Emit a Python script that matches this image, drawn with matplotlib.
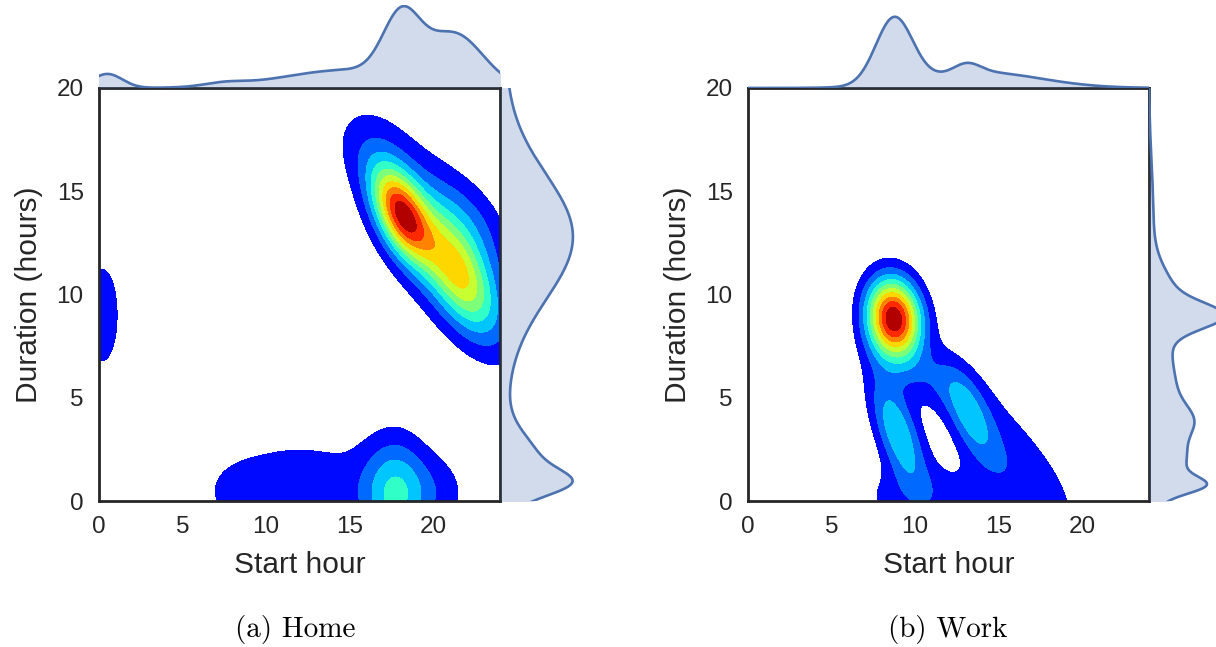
import numpy as np
import matplotlib.pyplot as plt

plt.rcParams['font.family'] = ['Liberation Sans', 'DejaVu Sans']

# Home: kernel blobs in (start hour, duration) space
home_mx = [18.1, 21.5, 20.1, 22.3, 16.2, 0.2, 17.7, 20.2, 12.0, 8.6]
home_my = [13.9, 11.0, 12.8, 13.6, 17.0, 9.0, 0.3, 0.4, 0.6, 0.4]
home_smaj = [1.7, 2.3, 4.5, 2.0, 1.6, 2.75, 1.9, 1.5, 4.3, 1.1]
home_smin = [0.9, 1.1, 1.9, 1.2, 1.2, 1.1, 1.3, 1.4, 1.9, 0.8]
home_ang = [-58, -55, -50, -40, -40, 90, 90, 0, 0, 0]
home_w = [0.72, 0.47, 0.2, 0.1, 0.06, 0.12, 0.3, 0.1, 0.14, 0.05]

# Work: kernel blobs
work_mx = [8.72, 8.95, 13.25, 10.6, 10.5, 15.8]
work_my = [8.84, 3.35, 4.2, 6.0, 0.2, 2.0]
work_smaj = [1.35, 2.0, 1.7, 1.8, 3.3, 4.5]
work_smin = [1.1, 0.82, 0.72, 0.9, 1.2, 1.5]
work_ang = [-75, -64, -60, -20, 0, -45]
work_w = [1.0, 0.36, 0.235, 0.11, 0.13, 0.15]

# marginal kde peaks (position, width, height as fraction of margin axes)
home_start_mu = [0.5, 7.5, 15.0, 18.1, 21.3]
home_start_sd = [0.9, 1.2, 4.0, 1.1, 1.7]
home_start_h = [0.17, 0.04, 0.22, 0.72, 0.6]

home_dur_mu = [0.85, 1.8, 12.8, 10.0]
home_dur_sd = [0.6, 1.3, 3.0, 20.0]
home_dur_h = [0.5, 0.42, 0.83, 0.08]

work_start_mu = [8.75, 13.1, 14.0]
work_start_sd = [1.1, 0.8, 3.5]
work_start_h = [0.8, 0.12, 0.19]

work_dur_mu = [0.75, 1.8, 3.9, 4.5, 8.95, 9.8, 14.0]
work_dur_sd = [0.4, 1.0, 0.7, 3.2, 0.6, 1.3, 2.5]
work_dur_h = [0.42, 0.2, 0.19, 0.36, 0.6, 0.25, 0.05]

ticks = [0, 5, 10, 15, 20]
line_col = '#4C72B0'
ink = '0.15'


def density(mx, my, smaj, smin, ang, w, xx, yy):
    z = np.zeros_like(xx)
    for x0, y0, a, b, t, h in zip(mx, my, smaj, smin, ang, w):
        t = np.deg2rad(t)
        u = (xx - x0) * np.cos(t) + (yy - y0) * np.sin(t)
        v = -(xx - x0) * np.sin(t) + (yy - y0) * np.cos(t)
        z += h * np.exp(-0.5 * ((u / a) ** 2 + (v / b) ** 2))
    return z


def curve(mu, sd, h, t):
    out = np.zeros_like(t)
    for m, s, a in zip(mu, sd, h):
        out += a * np.exp(-0.5 * ((t - m) / s) ** 2)
    return out


def panel(fig, left, blobs, start_k, dur_k, caption, cap_x):
    W, H = 401 / 1216, 413 / 647
    bottom = 146 / 647
    mw, mh = 80.2 / 1216, 82.6 / 647
    ax = fig.add_axes([left, bottom, W, H])
    ax_top = fig.add_axes([left, bottom + H, W, mh])
    ax_right = fig.add_axes([left + W, bottom, mw, H])

    xs = np.linspace(0, 24, 241)
    ys = np.linspace(0, 20, 201)
    xx, yy = np.meshgrid(xs, ys)
    z = density(*blobs, xx, yy)
    levels = np.linspace(0, z.max() * 1.01, 12)
    # lowest band left empty
    ax.contourf(xx, yy, z, levels=levels[1:], cmap='jet', vmin=0, vmax=levels[-1])
    ax.set_xlim(0, 24)
    ax.set_ylim(0, 20)
    ax.set_xticks(ticks)
    ax.set_yticks(ticks)
    ax.tick_params(length=0, labelsize=17.5, labelcolor=ink, pad=11)
    for sp in ax.spines.values():
        sp.set_color(ink)
        sp.set_linewidth(2)
    ax.set_xlabel('Start hour', fontsize=21.5, color=ink, labelpad=9)
    ax.set_ylabel('Duration (hours)', fontsize=21.5, color=ink, labelpad=10)

    t = np.linspace(-3, 27, 600)
    f = curve(*start_k, t)
    ax_top.fill_between(t, 0, f, color=line_col, alpha=0.25, lw=0)
    ax_top.plot(t, f, color=line_col, lw=1.9)
    ax_top.set_xlim(0, 24)
    ax_top.set_ylim(0, 1)
    ax_top.axis('off')

    d = np.linspace(-3, 23, 600)
    g = curve(*dur_k, d)
    ax_right.fill_betweenx(d, 0, g, color=line_col, alpha=0.25, lw=0)
    ax_right.plot(g, d, color=line_col, lw=1.9)
    ax_right.set_ylim(0, 20)
    ax_right.set_xlim(0, 1)
    ax_right.axis('off')

    fig.text(cap_x, 17 / 647, caption, family='cmr10', fontsize=21,
             ha='center', va='center')


fig = plt.figure(figsize=(12.16, 6.47), dpi=100)

panel(fig, 99 / 1216,
      (home_mx, home_my, home_smaj, home_smin, home_ang, home_w),
      (home_start_mu, home_start_sd, home_start_h),
      (home_dur_mu, home_dur_sd, home_dur_h),
      '(a) Home', 295 / 1216)
panel(fig, 748 / 1216,
      (work_mx, work_my, work_smaj, work_smin, work_ang, work_w),
      (work_start_mu, work_start_sd, work_start_h),
      (work_dur_mu, work_dur_sd, work_dur_h),
      '(b) Work', 948 / 1216)

fig.savefig('out.png', dpi=100)
